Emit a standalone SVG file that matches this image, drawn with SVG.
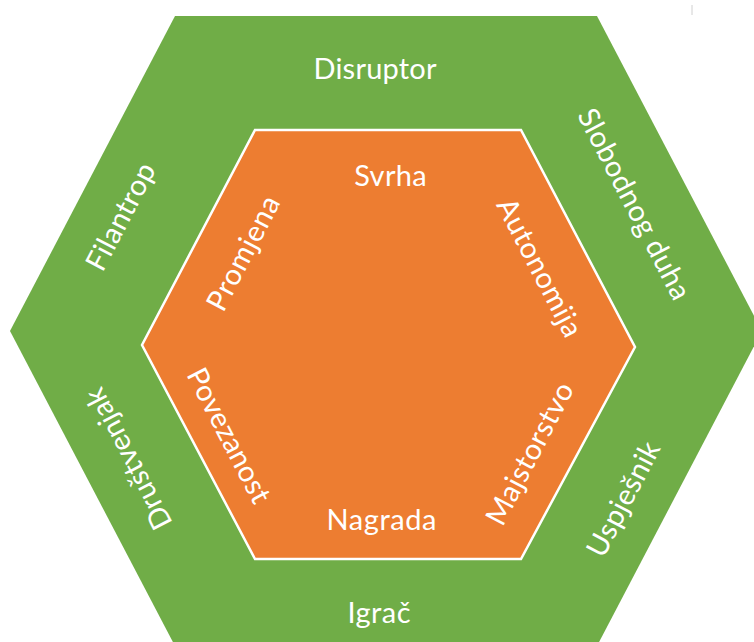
<svg xmlns="http://www.w3.org/2000/svg" width="754" height="642" viewBox="0 0 754 642">
  <style>
    .lbl { font-family: Lato, "Open Sans", "Liberation Sans", sans-serif; font-size: 29px; fill: #ffffff; text-anchor: middle; }
    .outer { fill: #70AD47; }
    .inner { fill: #ED7D31; stroke: #ffffff; stroke-width: 2.5; stroke-linejoin: miter; }
  </style>
  <rect width="754" height="642" fill="#ffffff"/>
  <line x1="692" y1="5" x2="692" y2="15" stroke="#d0d0d0" stroke-width="1"/>
  <g id="outer-hexagon">
    <polygon class="outer" points="175,16 597,16 762,331 597,646 175,646 10,331"/>
    <text class="lbl" x="375" y="78.5" textLength="123">Disruptor</text>
    <text class="lbl" transform="translate(632.5,205) rotate(62.5)" x="0" y="8" textLength="211">Slobodnog duha</text>
    <text class="lbl" transform="translate(625,500) rotate(-62.5)" x="0" y="8" textLength="125">Uspješnik</text>
    <text class="lbl" x="379" y="622.5" textLength="63">Igrač</text>
    <text class="lbl" transform="translate(130,458) rotate(-117.5)" x="0" y="8" textLength="155">Društvenjak</text>
    <text class="lbl" transform="translate(122.5,217.5) rotate(-62.5)" x="0" y="8" textLength="117">Filantrop</text>
  </g>
  <g id="inner-hexagon">
    <polygon class="inner" points="255,130 521,130 635,347 521,559 255,559 142,345"/>
    <text class="lbl" x="390.5" y="186" textLength="72.5">Svrha</text>
    <text class="lbl" transform="translate(538,268.5) rotate(62.5)" x="0" y="8" textLength="152">Autonomija</text>
    <text class="lbl" transform="translate(531.5,454.5) rotate(-62.5)" x="0" y="8" textLength="156">Majstorstvo</text>
    <text class="lbl" x="381.5" y="529.5" textLength="110">Nagrada</text>
    <text class="lbl" transform="translate(229,435.5) rotate(62.5)" x="0" y="10" textLength="148">Povezanost</text>
    <text class="lbl" transform="translate(245,254) rotate(-62.5)" x="0" y="8" textLength="125">Promjena</text>
  </g>
</svg>
